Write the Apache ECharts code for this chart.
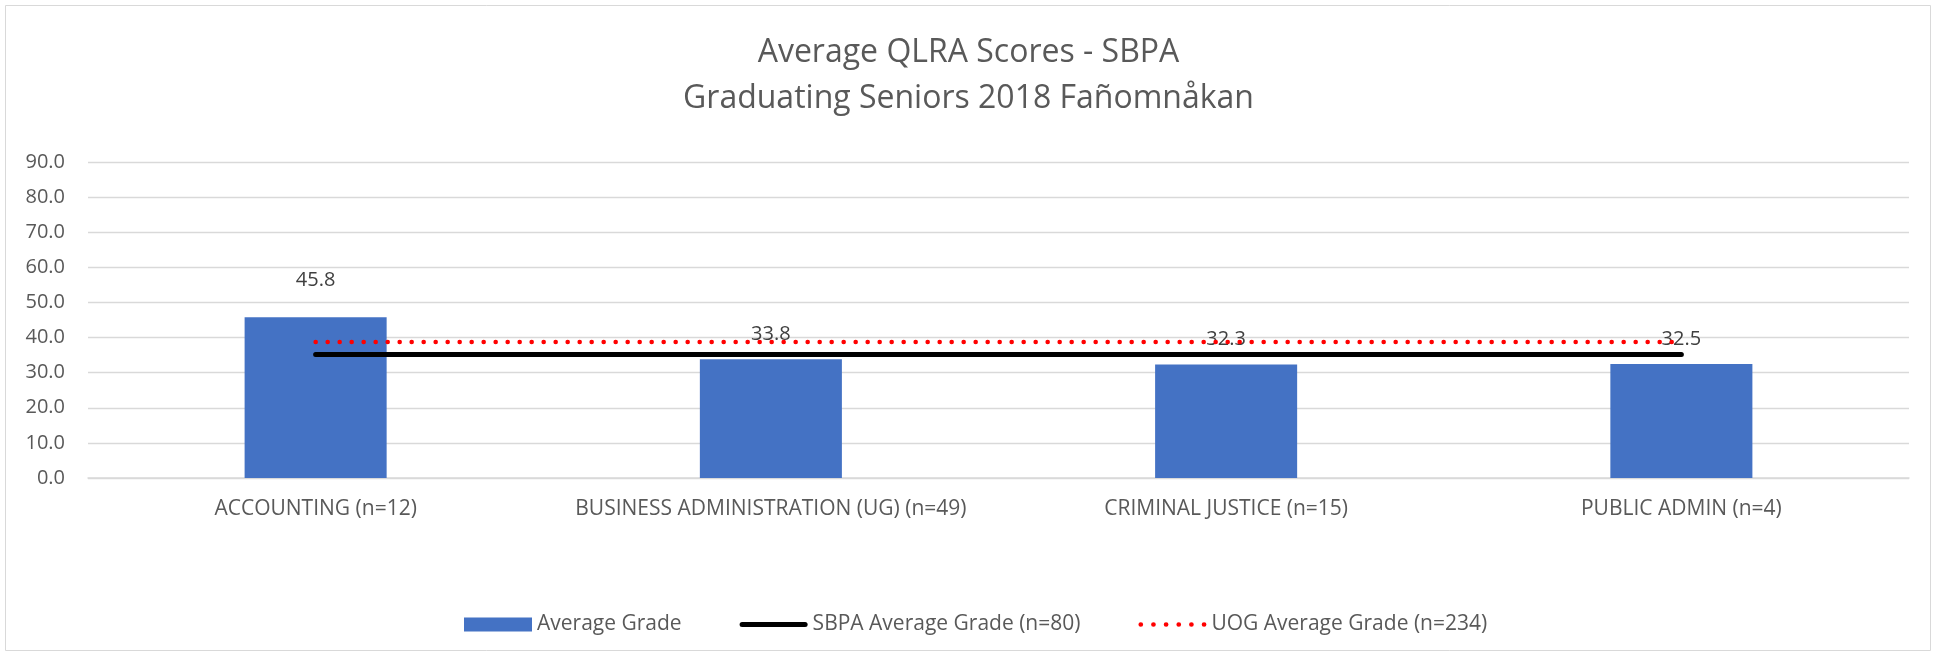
<!DOCTYPE html>
<html>
<head>
<meta charset="utf-8">
<script src="https://cdn.jsdelivr.net/npm/echarts@6/dist/echarts.min.js"></script>
<style>
html,body{margin:0;padding:0;background:#fff;}
#chart{width:1937px;height:657px;}
</style>
</head>
<body>
<div id="chart"></div>
<script>
const categories = ['ACCOUNTING (n=12)', 'BUSINESS ADMINISTRATION (UG) (n=49)', 'CRIMINAL JUSTICE (n=15)', 'PUBLIC ADMIN (n=4)'];
const averageGrade = [45.8, 33.8, 32.3, 32.5];
const sbpaAverage = [35.2, 35.2, 35.2, 35.2];
const uogAverage = [38.7, 38.7, 38.7, 38.7];
const seriesNames = ['Average Grade', 'SBPA Average Grade (n=80)', 'UOG Average Grade (n=234)'];
const titleText = 'Average QLRA Scores - SBPA\nGraduating Seniors 2018 Fañomnåkan';

const FONT = "'Open Sans', sans-serif";

// legend icon shapes
const solidIcon = 'path://M2.5,0 L65.5,0 A2.5,2.5 0 0,1 65.5,5 L2.5,5 A2.5,2.5 0 0,1 2.5,0 Z';
let dotPath = 'path://';
for (let i = 0; i < 6; i++) {
  const cx = 2.3 + i * 12.3;
  dotPath += 'M' + (cx - 2.3) + ',2.3 A2.3,2.3 0 1,0 ' + (cx + 2.3) + ',2.3 A2.3,2.3 0 1,0 ' + (cx - 2.3) + ',2.3 Z ';
}

const chart = echarts.init(document.getElementById('chart'), null, {renderer: 'canvas'});
chart.setOption({
  backgroundColor: '#ffffff',
  animation: false,
  textStyle: {fontFamily: FONT},
  title: {
    text: titleText,
    left: 'center',
    top: 25,
    textStyle: {fontFamily: FONT, fontSize: 32, fontWeight: 'normal', color: '#595959', lineHeight: 46}
  },
  graphic: [{
    type: 'rect',
    shape: {x: 5.5, y: 5.5, width: 1925, height: 645},
    style: {fill: 'none', stroke: '#d9d9d9', lineWidth: 1},
    silent: true
  }],
  legend: {
    left: 459,
    top: 609,
    itemGap: 58,
    itemWidth: 68,
    itemHeight: 14,
    textStyle: {fontFamily: FONT, fontSize: 21, color: '#595959'},
    data: [
      {name: seriesNames[0], icon: 'rect'},
      {name: seriesNames[1], icon: solidIcon, itemStyle: {color: '#000000'}},
      {name: seriesNames[2], icon: dotPath, itemStyle: {color: '#ff0000'}}
    ]
  },
  grid: {left: 88, right: 28, top: 162, bottom: 179, containLabel: false},
  xAxis: {
    type: 'category',
    data: categories,
    axisLine: {show: true, lineStyle: {color: '#d9d9d9', width: 1.5}},
    axisTick: {show: false},
    axisLabel: {fontFamily: FONT, fontSize: 21, color: '#595959', margin: 21, interval: 0}
  },
  yAxis: {
    type: 'value',
    min: 0,
    max: 90,
    interval: 10,
    axisLine: {show: false},
    axisTick: {show: false},
    splitLine: {lineStyle: {color: '#d9d9d9', width: 1.3}},
    axisLabel: {fontFamily: FONT, fontSize: 20, color: '#595959', margin: 23, formatter: v => v.toFixed(1)}
  },
  series: [
    {
      name: seriesNames[0],
      type: 'bar',
      barWidth: '31.2%',
      itemStyle: {color: '#4472C4'},
      data: averageGrade.map((v, i) => ({value: v, label: {distance: i === 0 ? 27 : 15}})),
      label: {
        show: true,
        position: 'top',
        fontFamily: FONT,
        fontSize: 20,
        color: '#404040',
        formatter: p => p.value.toFixed(1)
      },
      z: 2
    },
    {
      name: seriesNames[1],
      type: 'line',
      data: sbpaAverage,
      symbol: 'none',
      showSymbol: false,
      itemStyle: {color: '#000000'},
      lineStyle: {color: '#000000', width: 5, cap: 'round'},
      z: 3
    },
    {
      name: seriesNames[2],
      type: 'line',
      data: uogAverage,
      symbol: 'none',
      showSymbol: false,
      itemStyle: {color: '#ff0000'},
      lineStyle: {color: '#ff0000', width: 4.5, type: [0.1, 11.9], cap: 'round'},
      z: 4
    }
  ]
});
</script>
</body>
</html>
